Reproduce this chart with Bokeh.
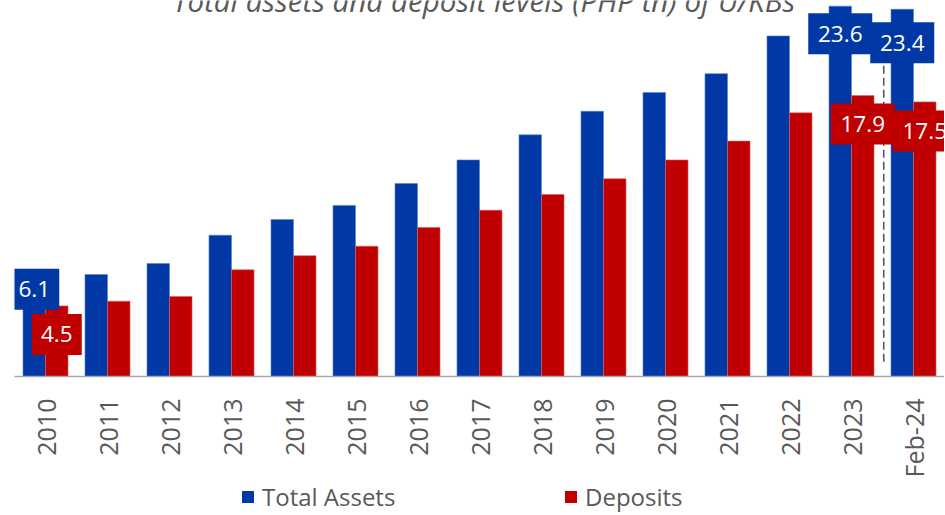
import math
from bokeh.plotting import figure
from bokeh.layouts import column
from bokeh.models import ColumnDataSource, Range1d, FactorRange, Legend, LegendItem, Label
from bokeh.transform import dodge
from bokeh.core.properties import value
from bokeh.embed import file_html
from bokeh.resources import INLINE

# ---- data ----
periods = ["2010", "2011", "2012", "2013", "2014", "2015", "2016", "2017",
           "2018", "2019", "2020", "2021", "2022", "2023", "Feb-24"]
total_assets = [6.1, 6.5, 7.2, 9.0, 10.0, 10.9, 12.3, 13.8, 15.4, 16.9, 18.1, 19.3, 21.7, 23.6, 23.4]
deposits = [4.5, 4.8, 5.1, 6.8, 7.7, 8.3, 9.5, 10.6, 11.6, 12.6, 13.8, 15.0, 16.8, 17.9, 17.5]
labelled_periods = ["2010", "2023", "Feb-24"]
series_names = ["Total Assets", "Deposits"]
title_text = "Total assets and deposit levels (PHP tn) of U/KBs"

# ---- style ----
BLUE = "#0039A6"
RED = "#C00000"
GREY = "#595959"
FONT = "Open Sans"
FRAME_LEFT = 14
FRAME_W = 930
FRAME_H = 376
BOTTOM = 104
LEG_H = 35
Y_END = 23.96
PX = FRAME_H / Y_END
BAR_W = 0.363

p = figure(x_range=FactorRange(*periods, range_padding=0), y_range=Range1d(0, Y_END),
           frame_width=FRAME_W, frame_height=FRAME_H, output_backend="svg", toolbar_location=None,
           y_axis_location=None, min_border_left=FRAME_LEFT, min_border_right=0,
           min_border_top=0, min_border_bottom=BOTTOM)
p.outline_line_color = None
p.grid.visible = False
p.background_fill_color = "white"
p.border_fill_color = "white"

src = ColumnDataSource(dict(period=periods, assets=total_assets, deposits=deposits))
p.vbar(x=dodge("period", -BAR_W / 2, range=p.x_range), top="assets", width=BAR_W,
       source=src, fill_color=BLUE, line_color="#5a7fcc", line_width=0.6)
p.vbar(x=dodge("period", BAR_W / 2, range=p.x_range), top="deposits", width=BAR_W,
       source=src, fill_color=RED, line_color="#d86060", line_width=0.6)

# divider between annual data and Feb-24
div = ColumnDataSource(dict(period=["2023"], y0=[max(total_assets) * 0.04], y1=[max(total_assets) * 0.95]))
p.segment(x0=dodge("period", 0.52, range=p.x_range), y0="y0",
          x1=dodge("period", 0.52, range=p.x_range), y1="y1",
          source=div, line_color=GREY, line_width=1.6, line_dash="8 4")

# data labels (boxes + white text)
label_offsets_a = {"2010": 8.5, "2023": 27.5, "Feb-24": 33.5}
label_offsets_d = {"2010": 28.5, "2023": 28.5, "Feb-24": 29.0}
cols = ["period", "y", "text", "color", "w"]
la = {k: [] for k in cols}
ld = {k: [] for k in cols}
for per, a, d in zip(periods, total_assets, deposits):
    if per in labelled_periods:
        for val, off, col, store in ((a, label_offsets_a[per], BLUE, la),
                                     (d, label_offsets_d[per], RED, ld)):
            txt = f"{val:.1f}"
            store["period"].append(per)
            store["y"].append(val - off / PX)
            store["text"].append(txt)
            store["color"].append(col)
            store["w"].append(50 if len(txt) == 3 else 64)
for store, dd in ((la, -BAR_W / 2), (ld, BAR_W / 2)):
    s = ColumnDataSource(store)
    xx = dodge("period", dd, range=p.x_range)
    p.rect(x=xx, y="y", width="w", height=41, width_units="screen", height_units="screen",
           source=s, fill_color="color", line_color=None)
    p.text(x=xx, y="y", text="text", source=s, text_color="white",
           text_font=value(FONT), text_font_size="22.5px",
           text_align="center", text_baseline="middle")

# x axis
ax = p.xaxis[0]
ax.axis_line_color = "#A6A6A6"
ax.axis_line_width = 1.5
ax.major_tick_line_color = None
ax.minor_tick_line_color = None
ax.major_label_orientation = math.pi / 2
ax.major_label_text_font = FONT
ax.major_label_text_font_size = "25px"
ax.major_label_text_color = GREY
ax.major_label_standoff = 16

# title (cropped at the top in the reference)
p.add_layout(Label(x=469.5, y=FRAME_H + 0.5, x_units="screen", y_units="screen", text=title_text,
                   text_font=FONT, text_font_style="italic", text_font_size="29.5px",
                   text_color=GREY, text_align="center", text_baseline="alphabetic"))

# legend strip below the chart (swatch renderers sit outside the visible range)
q = figure(x_range=Range1d(0, FRAME_LEFT + FRAME_W), y_range=Range1d(0, LEG_H),
           frame_width=FRAME_LEFT + FRAME_W, frame_height=LEG_H, output_backend="svg",
           toolbar_location=None, x_axis_location=None, y_axis_location=None,
           min_border=0)
q.outline_line_color = None
q.grid.visible = False
swatch = ColumnDataSource(dict(x=[-50], top=[-50]))
g_a = q.vbar(x="x", top="top", width=1, source=swatch, fill_color=BLUE, line_color=None)
g_d = q.vbar(x="x", top="top", width=1, source=swatch, fill_color=RED, line_color=None)
legend = Legend(items=[LegendItem(label=series_names[0], renderers=[g_a]),
                       LegendItem(label=series_names[1], renderers=[g_d])],
                orientation="horizontal", location=(240, 2),
                glyph_width=15, glyph_height=15, label_standoff=7, spacing=167,
                label_width=134,
                label_text_font=FONT, label_text_font_size="24px", label_text_color=GREY,
                padding=0, margin=0, border_line_color=None, background_fill_alpha=0)
q.add_layout(legend, "center")

open("out.html", "w").write(file_html(column(p, q, spacing=0), INLINE))
